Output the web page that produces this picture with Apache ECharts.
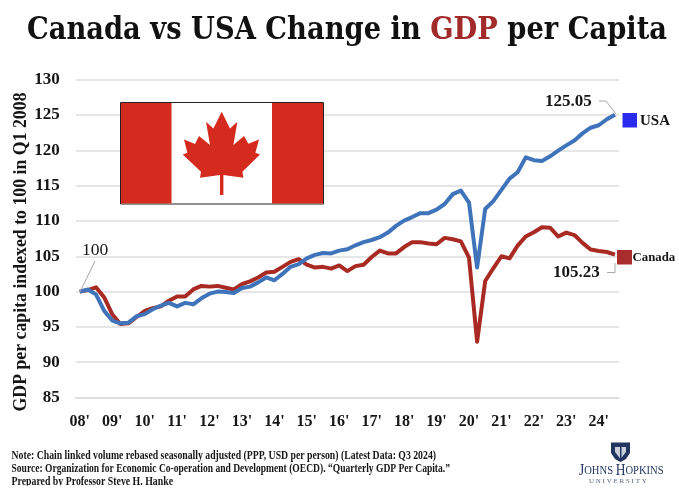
<!DOCTYPE html>
<html>
<head>
<meta charset="utf-8">
<script src="https://cdn.jsdelivr.net/npm/echarts@6/dist/echarts.min.js"></script>
<style>
html,body{margin:0;padding:0;background:#fff}
#chart{width:679px;height:499px}
</style>
</head>
<body>
<div id="chart"></div>
<script>
// Quarterly GDP per capita, indexed to 100 in Q1 2008 (2008 Q1 to 2024 Q3)
const yearLabels = ["08'","09'","10'","11'","12'","13'","14'","15'","16'","17'","18'","19'","20'","21'","22'","23'","24'"];
const usaValues = [100,100.3,99.6,97.3,95.9,95.5,95.6,96.5,96.8,97.5,98.0,98.4,97.9,98.4,98.2,99.05,99.7,100,99.95,99.8,100.5,100.7,101.3,102.0,101.6,102.5,103.5,103.9,104.7,105.2,105.45,105.4,105.8,106.0,106.55,107.0,107.3,107.7,108.35,109.3,110.05,110.55,111.1,111.1,111.6,112.4,113.8,114.3,112.6,103.4,111.7,112.8,114.4,116.0,116.9,119.0,118.6,118.5,119.15,119.95,120.7,121.4,122.4,123.2,123.55,124.4,125.05];
const canadaValues = [100,100.2,100.6,99.2,96.8,95.4,95.5,96.4,97.25,97.65,97.9,98.7,99.3,99.3,100.3,100.8,100.7,100.8,100.55,100.3,101.05,101.45,102,102.7,102.8,103.5,104.2,104.6,103.8,103.4,103.5,103.25,103.7,102.9,103.6,103.8,104.9,105.8,105.4,105.4,106.3,107,107,106.8,106.7,107.6,107.4,107.1,104.8,92.9,101.5,103.3,105,104.7,106.5,107.8,108.4,109.1,109.05,107.8,108.35,108,106.9,105.95,105.75,105.6,105.23];
const titleParts = ['Canada vs USA Change in ', 'GDP', ' per Capita'];
const yAxisTitle = 'GDP per capita indexed to 100 in Q1 2008';
const footerLines = [
  'Note: Chain linked volume rebased seasonally adjusted (PPP, USD per person) (Latest Data: Q3 2024)',
  'Source: Organization for Economic Co-operation and Development (OECD). \u201cQuarterly GDP Per Capita.\u201d',
  'Prepared by Professor Steve H. Hanke'
];

const quarters = usaValues.map((_, i) => yearLabels[Math.floor(i / 4)]);
const SERIF = '"Liberation Serif",serif';
const TITLE_FONT = '"DejaVu Serif",serif';
const INK = '#161616';
const RED = '#d52b1e';
const NAVY = '#22355f';

// Maple leaf outline, measured from the tip of the leaf
const leaf = [[0,0],[-8.3,16.7],[-15.7,10],[-11.7,33.3],[-22.7,24.3],[-26.7,32.3],[-37.7,27.7],[-34.3,41],[-39,42.7],[-20.7,60],[-21.7,66],[-1.7,63.3],[-1.7,83.3],[1.7,83.3],[1.7,63.3],[21.7,66],[20.7,60],[38.3,42.7],[33.7,41],[37.3,27.7],[26.7,32],[22.3,24.3],[11.7,33.3],[15.7,10],[8.3,16.7]];

// Horizontal squeeze needed for a string to occupy a given width
const ctx = document.createElement('canvas').getContext('2d');
function fitScale(text, font, width) {
  ctx.font = font;
  return width / ctx.measureText(text).width;
}

const chart = echarts.init(document.getElementById('chart'), null, {renderer: 'canvas'});

const textEl = (x, y, text, fontSize, extra) => ({
  type: 'text', x, y, silent: true, z: 20,
  style: Object.assign({text, fontFamily: SERIF, fontWeight: 'bold', fontSize, fill: INK, verticalAlign: 'middle'}, extra || {})
});
const fittedText = (x, y, text, fontSize, width) => Object.assign(
  textEl(x, y, text, fontSize),
  {scaleX: fitScale(text, `bold ${fontSize}px ${SERIF}`, width), originX: 0}
);
const leader = (points) => ({
  type: 'polyline', silent: true, z: 20,
  shape: {points},
  style: {stroke: '#a8a8a8', lineWidth: 1, fill: 'none'}
});
const box = (x, y, width, height, fill, extra) => ({
  type: 'rect', silent: true, z: 20,
  shape: {x, y, width, height},
  style: Object.assign({fill}, extra || {})
});

const titleSize = 32;
const titleFont = `bold ${titleSize}px ${TITLE_FONT}`;

chart.setOption({
  animation: false,
  backgroundColor: '#fff',
  grid: {left: 75.7, right: 60, top: 79.7, bottom: 101.5, outerBoundsMode: 'none'},
  xAxis: {
    type: 'category', data: quarters, boundaryGap: true,
    axisLine: {lineStyle: {color: '#dadada', width: 1.5}},
    axisTick: {interval: 3, length: 5, inside: true, lineStyle: {color: '#cfcfcf'}},
    axisLabel: {interval: 3, color: INK, fontFamily: SERIF, fontWeight: 'bold', fontSize: 16, margin: 16, hideOverlap: false},
    splitLine: {show: false}
  },
  yAxis: {
    type: 'value', min: 85, max: 130, interval: 5,
    axisLine: {show: false}, axisTick: {show: false},
    axisLabel: {color: INK, fontFamily: SERIF, fontWeight: 'bold', fontSize: 17, margin: 16},
    splitLine: {lineStyle: {color: '#dedede', width: 1.5}}
  },
  series: [
    {name: 'Canada', type: 'line', data: canadaValues, symbol: 'none', lineStyle: {color: '#a92a22', width: 4, join: 'round'}, z: 3},
    {name: 'USA', type: 'line', data: usaValues, symbol: 'none', lineStyle: {color: '#3f74bb', width: 4, join: 'round'}, z: 4}
  ],
  graphic: [
    // Headline, with GDP picked out in red
    {
      type: 'text', x: 27, y: 30.5, silent: true, z: 20,
      scaleX: fitScale(titleParts.join(''), titleFont, 640), originX: 0,
      style: {
        text: `{a|${titleParts[0]}}{b|${titleParts[1]}}{a|${titleParts[2]}}`,
        verticalAlign: 'middle',
        rich: {
          a: {fontFamily: TITLE_FONT, fontWeight: 'bold', fontSize: titleSize, fill: '#111'},
          b: {fontFamily: TITLE_FONT, fontWeight: 'bold', fontSize: titleSize, fill: '#a32a2a'}
        }
      }
    },
    // Vertical axis title
    Object.assign(textEl(21.5, 252, yAxisTitle, 17.8, {align: 'center'}), {rotation: Math.PI / 2}),
    // Flag of Canada
    box(120.5, 102.5, 203, 101.5, '#fff', {stroke: '#222', lineWidth: 1}),
    box(121, 103, 50.5, 100.5, RED),
    box(272, 103, 51, 100.5, RED),
    {type: 'polygon', silent: true, z: 20, x: 221.7, y: 111.7, shape: {points: leaf}, style: {fill: RED}},
    // End-of-line markers
    box(622.5, 113, 14.5, 14.5, '#2b2bf0'),
    textEl(640, 120.7, 'USA', 15),
    box(617, 250, 15, 14.5, '#a92d2d'),
    textEl(632.5, 257.5, 'Canada', 12.8),
    // Value callouts
    textEl(82, 250, String(usaValues[0]), 17.5, {fontWeight: 'normal'}),
    leader([[80, 292], [95, 261]]),
    textEl(545, 101.7, usaValues[usaValues.length - 1].toFixed(2), 17),
    leader([[599, 101], [606, 101], [616, 114]]),
    textEl(553, 272.7, canadaValues[canadaValues.length - 1].toFixed(2), 17),
    leader([[607, 272.5], [615, 272.5], [615, 263]]),
    // Footer notes
    fittedText(11.5, 455.7, footerLines[0], 12, 424.5),
    fittedText(11.5, 469, footerLines[1], 12, 438.5),
    fittedText(11.5, 482, footerLines[2], 12, 161.5),
    box(0, 485.5, 300, 13.5, '#fff'),
    // University shield and wordmark
    {type: 'polygon', silent: true, z: 20, shape: {points: [[611,442.5],[630,442.5],[630,453],[626,459],[620.5,462],[615,459],[611,453]]}, style: {fill: NAVY}},
    {type: 'polygon', silent: true, z: 21, shape: {points: [[615,447],[626,447],[626,452],[620.5,459],[615,452]]}, style: {fill: '#c9d0dc'}},
    {type: 'rect', silent: true, z: 22, shape: {x: 620, y: 447, width: 1.5, height: 12}, style: {fill: NAVY}},
    {
      type: 'text', x: 579, y: 471, silent: true, z: 20, scaleX: 0.84, originX: 0,
      style: {
        text: '{b|J}{s|OHNS }{b|H}{s|OPKINS}', verticalAlign: 'middle',
        rich: {
          b: {fontFamily: SERIF, fontSize: 16, fill: NAVY},
          s: {fontFamily: SERIF, fontSize: 12.6, fill: NAVY}
        }
      }
    },
    textEl(589, 481, 'U N I V E R S I T Y', 7, {fontWeight: 'normal', fill: '#56657f'})
  ]
});
</script>
</body>
</html>
